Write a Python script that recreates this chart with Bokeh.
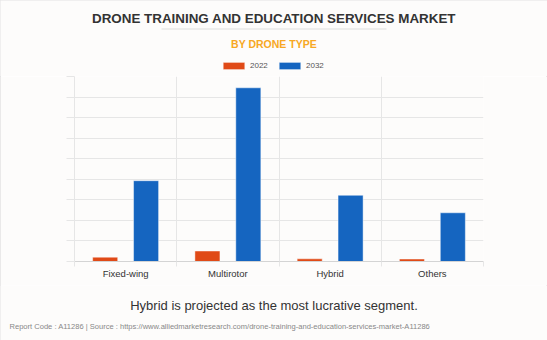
from bokeh.plotting import figure
from bokeh.layouts import column
from bokeh.models import (Range1d, FixedTicker, Label, BoxAnnotation, Legend, LegendItem,
                          ColumnDataSource)
from bokeh.embed import file_html
from bokeh.resources import INLINE

categories = ["Fixed-wing", "Multirotor", "Hybrid", "Others"]
years = ["2022", "2032"]
values_2022 = [21, 51, 13, 12]
values_2032 = [393, 845, 322, 237]
y_max = 900
y_step = 100

title_text = "DRONE TRAINING AND EDUCATION SERVICES MARKET"
subtitle_text = "BY DRONE TYPE"
note_text = "Hybrid is projected as the most lucrative segment."
source_text = ("Report Code : A11286  |  Source : https://www.alliedmarketresearch.com/"
               "drone-training-and-education-services-market-A11286")

W = 547
H_HEAD, H_MAIN, H_FOOT = 76, 209, 55
BG = "#fdfcfb"
GRID = "#e6e6e6"
EDGE = "#e3e3e3"
FONT = "Liberation Sans"
ORANGE = "#e04a17"
BLUE = "#1565c0"
COLORS = [ORANGE, BLUE]


def panel_fig(h):
    f = figure(width=W, height=h, output_backend="svg", toolbar_location=None,
               x_axis_location=None, y_axis_location=None,
               x_range=Range1d(0, W), y_range=Range1d(0, h),
               min_border=0, min_border_left=0, min_border_right=0,
               min_border_top=0, min_border_bottom=0, frame_align=False)
    f.background_fill_color = BG
    f.border_fill_color = BG
    f.outline_line_color = None
    f.grid.visible = False
    return f


# ---------------- header ----------------
head = panel_fig(H_HEAD)
head.add_layout(Label(x=273.5, y=17.5, x_units="canvas", y_units="canvas", text=title_text,
                      text_font=FONT, text_font_size="13.4px", text_font_style="bold",
                      text_color="#333333", text_align="center", text_baseline="middle"))
head.add_layout(BoxAnnotation(left=161, right=386, top=28, bottom=29,
                              left_units="canvas", right_units="canvas",
                              top_units="canvas", bottom_units="canvas",
                              fill_color="#dddddd", fill_alpha=1, line_color=None))
head.add_layout(Label(x=273.5, y=43.5, x_units="canvas", y_units="canvas", text=subtitle_text,
                      text_font=FONT, text_font_size="10.5px", text_font_style="bold",
                      text_color="#f7a823", text_align="center", text_baseline="middle"))
# legend swatches (zero-size proxies outside the visible area, only used by the legend)
proxy = ColumnDataSource(dict(x=[-100], top=[0]))
leg_r = [head.vbar(x="x", top="top", width=0, source=proxy, fill_color=c,
                   line_color="white", line_alpha=0.45) for c in COLORS]
legend = Legend(items=[LegendItem(label=y, renderers=[r]) for y, r in zip(years, leg_r)],
                orientation="horizontal", location=(220, 6),
                glyph_width=27, glyph_height=9, label_height=9,
                label_text_font=FONT, label_text_font_size="8px", label_text_color="#555555",
                label_standoff=3, spacing=6, padding=0, margin=0,
                border_line_color=None, background_fill_alpha=0)
head.add_layout(legend, "center")

# ---------------- main chart ----------------
p = figure(width=W, height=H_MAIN, output_backend="svg", toolbar_location=None,
           x_range=Range1d(0, len(categories)), y_range=Range1d(0, y_max),
           min_border_left=74, min_border_right=64, min_border_top=0, min_border_bottom=24,
           frame_align=False)
p.background_fill_color = BG
p.border_fill_color = BG
p.outline_line_color = None

idx = list(range(len(categories)))
src = ColumnDataSource(dict(
    x22=[i + 0.5 - 0.2 for i in idx],
    x32=[i + 0.5 + 0.2 for i in idx],
    v22=values_2022,
    v32=values_2032,
))
p.vbar(x="x22", top="v22", width=0.245, source=src, fill_color=ORANGE,
       line_color="white", line_alpha=0.45, line_width=1)
p.vbar(x="x32", top="v32", width=0.245, source=src, fill_color=BLUE,
       line_color="white", line_alpha=0.45, line_width=1)

xax = p.xaxis[0]
xax.ticker = FixedTicker(ticks=[i + 0.5 for i in idx], minor_ticks=list(range(len(categories) + 1)))
xax.major_label_overrides = {i + 0.5: c for i, c in zip(idx, categories)}
xax.major_tick_line_color = None
xax.major_tick_out = 0
xax.major_tick_in = 0
xax.minor_tick_in = 0
xax.minor_tick_out = 5
xax.minor_tick_line_color = GRID
xax.axis_line_color = "#d4d4d4"
xax.major_label_text_font = FONT
xax.major_label_text_font_size = "9.5px"
xax.major_label_text_color = "#333333"
xax.major_label_standoff = 1

yax = p.yaxis[0]
yax.ticker = FixedTicker(ticks=list(range(0, y_max + 1, y_step)), minor_ticks=[])
yax.major_label_text_font_size = "0px"
yax.major_label_text_color = None
yax.major_tick_in = 0
yax.major_tick_out = 8
yax.major_tick_line_color = GRID
yax.axis_line_color = GRID
yax.minor_tick_line_color = None

p.xgrid.ticker = FixedTicker(ticks=list(range(1, len(categories))))
p.xgrid.grid_line_color = GRID
p.ygrid.grid_line_color = GRID

# ---------------- footer ----------------
foot = panel_fig(H_FOOT)
foot.add_layout(Label(x=273.5, y=20, x_units="canvas", y_units="canvas", text=note_text,
                      text_font=FONT, text_font_size="13px",
                      text_color="#333333", text_align="center", text_baseline="middle"))
foot.add_layout(Label(x=9, y=41, x_units="canvas", y_units="canvas", text=source_text,
                      text_font=FONT, text_font_size="7.55px",
                      text_color="#888888", text_align="left", text_baseline="middle"))

layout = column(head, p, foot, spacing=0)
layout.styles = {"outline": "1px solid " + EDGE, "outline-offset": "-1px"}
open("out.html", "w").write(file_html(layout, INLINE))
